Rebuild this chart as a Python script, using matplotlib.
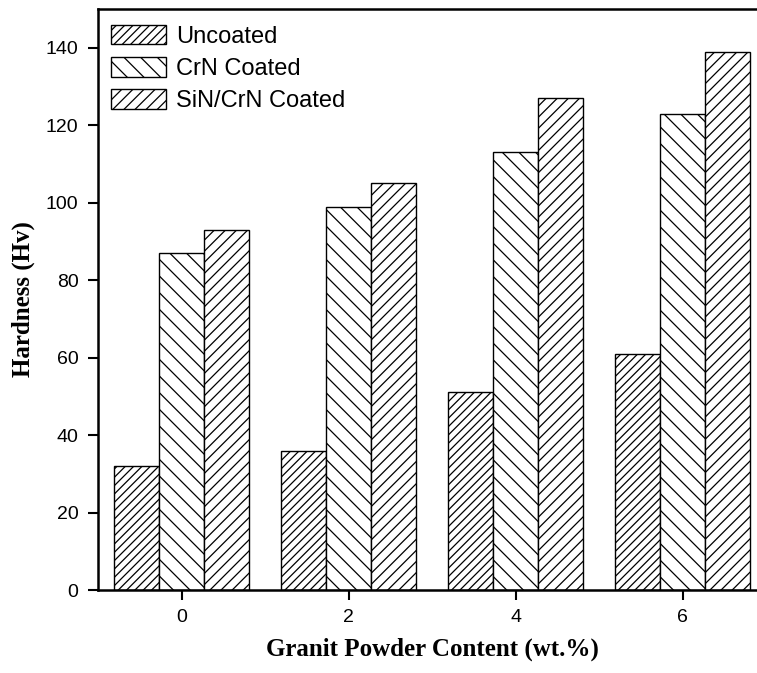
import numpy as np
import matplotlib
matplotlib.use("Agg")
import matplotlib.pyplot as plt

# granite powder content (wt.%) and hardness values
contenido = [0, 2, 4, 6]
sin_recubrir = [32, 36, 51, 61]
crn = [87, 99, 113, 123]
sin_crn = [93, 105, 127, 139]

series = ["Uncoated", "CrN Coated", "SiN/CrN Coated"]
patrones = ["////", "\\\\", "///"]

plt.rcParams['hatch.linewidth'] = 0.9
plt.rcParams['font.family'] = 'Liberation Sans'

fig = plt.figure(figsize=(7.57, 6.73), dpi=100)
ax = fig.add_axes([0.1295, 0.1233, 0.8824, 0.8633])

x = np.array(contenido, dtype=float)
ancho = 0.54
for i, (datos, nombre, h) in enumerate(zip([sin_recubrir, crn, sin_crn], series, patrones)):
	ax.bar(x + (i - 1) * ancho, datos, width=ancho, color='white', edgecolor='black',
		   linewidth=1.0, hatch=h, label=nombre)

ax.set_xlim(-1, 7)
ax.set_ylim(0, 150)
ax.set_xticks(contenido)
ax.set_yticks(np.arange(0, 141, 20))
ax.tick_params(direction='out', length=7, width=1.5, labelsize=14, pad=7)

for lado in ['left', 'bottom', 'top']:
	ax.spines[lado].set_linewidth(1.8)
ax.spines['right'].set_visible(False)

ax.set_xlabel("Granit Powder Content (wt.%)", family='Liberation Serif',
			  fontweight='bold', fontsize=18, labelpad=8)
ax.set_ylabel("Hardness (Hv)", family='Liberation Serif',
			  fontweight='bold', fontsize=18, labelpad=8)

ax.legend(loc='upper left', bbox_to_anchor=(0.02, 0.973), frameon=False,
		  fontsize=17, handlelength=2.33, handleheight=0.9, handletextpad=0.4,
		  labelspacing=0.4, borderpad=0, borderaxespad=0)

fig.savefig("out.png", dpi=100)
